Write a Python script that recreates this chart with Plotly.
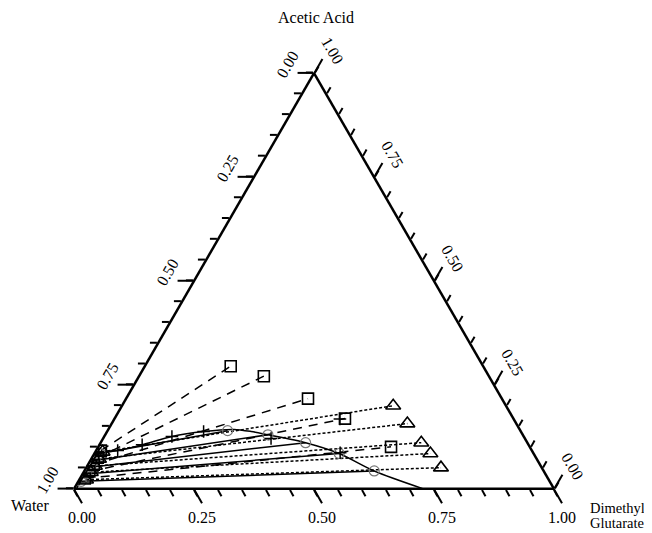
import plotly.graph_objects as go

# ---- data (a = Acetic Acid, c = Dimethyl Glutarate, b = Water = 1-a-c) ----
binodal_a = [0.000, 0.030, 0.060, 0.087, 0.092, 0.106, 0.126, 0.138, 0.143, 0.138, 0.130, 0.111, 0.085, 0.043, 0.000]
binodal_c = [0.005, 0.005, 0.006, 0.008, 0.045, 0.089, 0.141, 0.201, 0.262, 0.300, 0.339, 0.427, 0.510, 0.604, 0.728]

plus_a = [0.087, 0.092, 0.106, 0.126, 0.138, 0.121, 0.087, 0.168]
plus_c = [0.008, 0.045, 0.089, 0.141, 0.201, 0.350, 0.511, 0.470]

circ_org_a = [0.140, 0.130, 0.111, 0.085, 0.043]
circ_org_c = [0.250, 0.339, 0.427, 0.510, 0.604]
circ_aq_a = [0.085, 0.068, 0.052, 0.036, 0.018]
circ_aq_c = [0.012, 0.010, 0.008, 0.007, 0.006]

sq_org_a = [0.295, 0.271, 0.217, 0.169, 0.101]
sq_org_c = [0.179, 0.260, 0.379, 0.480, 0.610]
sq_aq_a = [0.092, 0.075, 0.058, 0.042, 0.025]
sq_aq_c = [0.010, 0.012, 0.012, 0.011, 0.010]

tri_org_a = [0.200, 0.157, 0.111, 0.085, 0.051]
tri_org_c = [0.565, 0.616, 0.668, 0.700, 0.739]
tri_aq_a = [0.089, 0.072, 0.055, 0.040, 0.022]
tri_aq_c = [0.015, 0.016, 0.016, 0.015, 0.014]

major_vals = [0.0, 0.25, 0.5, 0.75, 1.0]
major_text = ["1.00", "0.75", "0.50", "0.25", "0.00"]   # labels shown = 1 - axis value
minor_vals = [i * 0.05 for i in range(21)]

FONT = "Liberation Serif"
W, H = 652, 533
OFF = 8  # page offset of the plot div


def segs(a1, c1, a2, c2):
    A, B, C = [], [], []
    for p, q, r, s in zip(a1, c1, a2, c2):
        A += [p, r, None]
        C += [q, s, None]
        B += [1 - p - q, 1 - r - s, None]
    return A, B, C


fig = go.Figure()

# binodal curve
fig.add_trace(go.Scatterternary(
    a=binodal_a, c=binodal_c, b=[1 - x - y for x, y in zip(binodal_a, binodal_c)],
    mode="lines", line=dict(color="black", width=1.5, shape="spline", smoothing=0.8),
    showlegend=False, hoverinfo="skip"))

# solid tie lines (circles)
A, B, C = segs(circ_aq_a, circ_aq_c, circ_org_a, circ_org_c)
fig.add_trace(go.Scatterternary(a=A, b=B, c=C, mode="lines",
                                line=dict(color="black", width=1.5), showlegend=False, hoverinfo="skip"))
# dashed tie lines (squares)
A, B, C = segs(sq_aq_a, sq_aq_c, sq_org_a, sq_org_c)
fig.add_trace(go.Scatterternary(a=A, b=B, c=C, mode="lines",
                                line=dict(color="black", width=1.5, dash="9px,7px"), showlegend=False, hoverinfo="skip"))
# dotted tie lines (triangles)
A, B, C = segs(tri_aq_a, tri_aq_c, tri_org_a, tri_org_c)
fig.add_trace(go.Scatterternary(a=A, b=B, c=C, mode="lines",
                                line=dict(color="black", width=1.5, dash="3px,2px"), showlegend=False, hoverinfo="skip"))


def add_markers(a, c, symbol, size, color, width):
    fig.add_trace(go.Scatterternary(
        a=a, c=c, b=[1 - x - y for x, y in zip(a, c)], mode="markers",
        marker=dict(symbol=symbol, size=size, color=color, line=dict(color=color, width=width)),
        showlegend=False, hoverinfo="skip"))


add_markers(circ_org_a + circ_aq_a, circ_org_c + circ_aq_c, "circle-open", 10, "#777777", 1.2)
add_markers(sq_org_a + sq_aq_a, sq_org_c + sq_aq_c, "square-open", 11, "black", 1.6)
add_markers(tri_org_a + tri_aq_a, tri_org_c + tri_aq_c, "triangle-up-open", 13, "black", 1.6)
add_markers(plus_a, plus_c, "cross-thin-open", 9, "black", 1.5)

# dummy trace for overlay ternary (major ticks + labels)
fig.add_trace(go.Scatterternary(a=[1], b=[0], c=[0], mode="markers", marker=dict(size=1, opacity=0),
                                subplot="ternary2", showlegend=False, hoverinfo="skip"))

dom = dict(x=[66 / W, 546 / W], y=[52 / H, 468 / H])

minor_axis = dict(tickmode="array", tickvals=minor_vals, ticks="outside", ticklen=7,
                  tickwidth=2, tickcolor="black", showticklabels=False, showgrid=False,
                  showline=True, linecolor="black", linewidth=2.5, min=0, title=dict(text=""))


def major_axis(angle):
    return dict(tickmode="array", tickvals=major_vals, ticktext=major_text, ticks="outside",
                ticklen=16, tickwidth=2, tickcolor="black", showgrid=False, showline=False,
                tickangle=angle, tickfont=dict(family=FONT, size=16, color="black"),
                min=0, title=dict(text=""))


def ann(text, sx, sy, xanchor="center", size=16):
    # sx, sy: desired screen position of the text anchor
    return dict(text=text, x=(sx - OFF) / W, y=1 - (sy - OFF) / H, xref="paper", yref="paper",
                xanchor=xanchor, yanchor="middle", showarrow=False,
                font=dict(family=FONT, size=size, color="black"))


fig.update_layout(
    width=W, height=H, margin=dict(l=0, r=0, t=0, b=0),
    paper_bgcolor="white",
    ternary=dict(domain=dom, sum=1, bgcolor="white",
                 aaxis=minor_axis, baxis=minor_axis, caxis=minor_axis),
    ternary2=dict(domain=dom, sum=1, bgcolor="rgba(0,0,0,0)",
                  aaxis=major_axis(-60), baxis=major_axis(0), caxis=major_axis(60)),
    font=dict(family=FONT, size=16, color="black"),
    annotations=[
        ann("Acetic Acid", 316, 18),
        ann("Water", 30, 505),
        ann("Dimethyl", 588, 508, "left", 14.5),
        ann("Glutarate", 588, 523, "left", 14.5),
    ],
)

fig.write_html("out.html")
